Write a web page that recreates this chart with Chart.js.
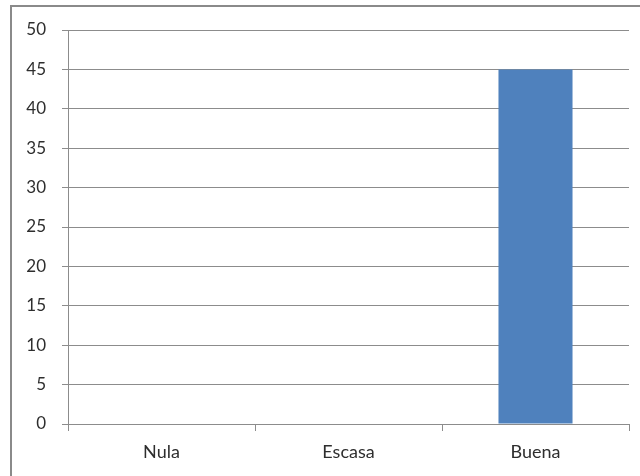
<!DOCTYPE html>
<html>
<head>
<meta charset="utf-8">
<script src="https://cdn.jsdelivr.net/npm/chart.js@4/dist/chart.umd.min.js"></script>
<style>
    body { margin: 0; background: #fff; }
    #wrap { position: relative; width: 640px; height: 476px; overflow: hidden; }
    #frame { position: absolute; left: 10px; top: 5px; width: 700px; height: 600px; border: 2px solid #8a8a8a; box-sizing: border-box; }
    canvas { position: absolute; left: 0; top: 0; }
</style>
</head>
<body>
<div id="wrap">
    <div id="frame"></div>
    <canvas id="chart" width="640" height="476"></canvas>
</div>
<script>
// datos del gráfico
const categories = ['Nula', 'Escasa', 'Buena'];
const values = [0, 0, 45];
const yTicks = [0, 5, 10, 15, 20, 25, 30, 35, 40, 45, 50];

const gridColor = '#8c8c8c';
const textColor = '#2e2e2e';

new Chart(document.getElementById('chart'), {
    type: 'bar',
    data: {
        labels: categories,
        datasets: [{
            data: values,
            backgroundColor: '#4F81BD',
            categoryPercentage: 1,
            barPercentage: 0.396
        }]
    },
    options: {
        responsive: false,
        animation: false,
        layout: { padding: { left: 0, right: 11, top: 30, bottom: 0 } },
        plugins: {
            legend: { display: false },
            tooltip: { enabled: false }
        },
        scales: {
            x: {
                grid: { drawOnChartArea: false, drawTicks: true, tickLength: 7, color: gridColor },
                border: { display: true, color: gridColor },
                ticks: { color: textColor, padding: 10, font: { family: 'Lato', size: 18 } },
                afterFit: scale => { scale.height = 52; }
            },
            y: {
                min: 0,
                max: 50,
                afterBuildTicks: scale => { scale.ticks = yTicks.map(v => ({ value: v })); },
                grid: { color: gridColor, tickLength: 6 },
                border: { display: true, color: gridColor },
                ticks: { color: textColor, padding: 16, font: { family: 'Lato', size: 17 } },
                afterFit: scale => { scale.width = 68; }
            }
        }
    }
});
</script>
</body>
</html>
